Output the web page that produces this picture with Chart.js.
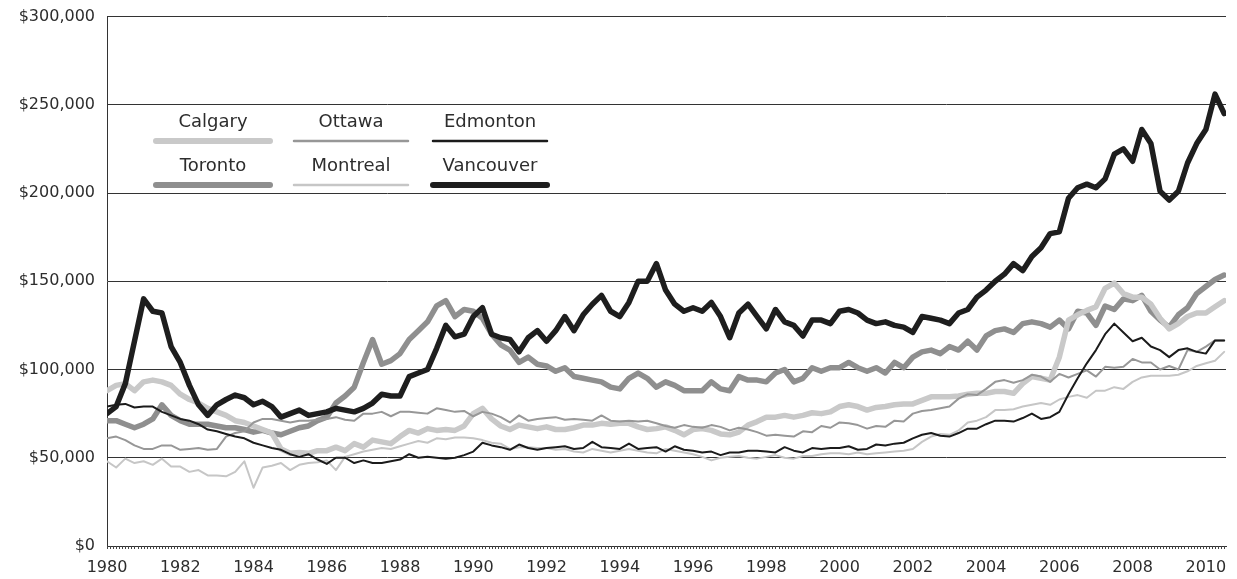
<!DOCTYPE html>
<html>
<head>
<meta charset="utf-8">
<title>Harga rumah</title>
<script src="https://cdn.jsdelivr.net/npm/chart.js@4.4.1/dist/chart.umd.min.js"></script>
<style>
    html, body { margin: 0; padding: 0; background: #fff; }
    #wrap { width: 1237px; height: 579px; }
</style>
</head>
<body>
<div id="wrap"><canvas id="grafikHarga" width="1237" height="579"></canvas></div>
<script>
// Quarterly prices in thousands of dollars, from Q1 1980 to Q3 2010
const startYear = 1980;
const pointsPerYear = 4;

const calgary = [
    88, 91, 92, 88,         // 1980
    93, 94, 93, 91,         // 1981
    86, 83, 81, 78,         // 1982
    76, 74, 71, 70,         // 1983
    68, 66, 64, 55,         // 1984
    52.5, 53, 52.5, 54,     // 1985
    54, 56, 54, 58,         // 1986
    56, 60, 59, 58,         // 1987
    62, 65.5, 64, 66.5,     // 1988
    65.5, 66, 65.5, 68,     // 1989
    75, 78, 72, 68,         // 1990
    66, 68.5, 67.5, 66.5,   // 1991
    67.5, 66, 66, 67,       // 1992
    68.5, 68.5, 69.5, 69,   // 1993
    69.5, 69.5, 67.5, 66,   // 1994
    66.5, 67.5, 65.5, 63,   // 1995
    66, 66.5, 65.5, 63.5,   // 1996
    63, 64.5, 68.5, 70.5,   // 1997
    73, 73, 74, 73,         // 1998
    74, 75.5, 75, 76,       // 1999
    79, 80, 79, 77,         // 2000
    78.5, 79, 80, 80.5,     // 2001
    80.5, 82.5, 84.5, 84.5, // 2002
    84.5, 85, 86, 86.5,     // 2003
    86.5, 87.5, 87.5, 86.5, // 2004
    92, 96, 95, 94,         // 2005
    107, 128, 131, 133.5,   // 2006
    135.5, 146, 149, 143,   // 2007
    141, 141, 137, 129,     // 2008
    123, 126, 130, 132,     // 2009
    132, 135.5, 139         // 2010
];

const toronto = [
    71, 71, 69, 67,         // 1980
    69, 72, 80, 74,         // 1981
    71, 69, 69, 69,         // 1982
    68, 67, 67, 66,         // 1983
    64.5, 65.5, 64, 63,     // 1984
    65, 67, 68, 71,         // 1985
    73, 81, 85, 90,         // 1986
    104, 117, 103, 105,     // 1987
    109, 117, 122, 127,     // 1988
    136, 139, 130, 134,     // 1989
    133, 129, 120, 114,     // 1990
    111, 104, 107, 103,     // 1991
    102, 99, 101, 96,       // 1992
    95, 94, 93, 90,         // 1993
    89, 95, 98, 95,         // 1994
    90, 93, 91, 88,         // 1995
    88, 88, 93, 89,         // 1996
    88, 96, 94, 94,         // 1997
    93, 98, 100, 93,        // 1998
    95, 101, 99, 101,       // 1999
    101, 104, 101, 99,      // 2000
    101, 98, 104, 101,      // 2001
    107, 110, 111, 109,     // 2002
    113, 111, 116, 111,     // 2003
    119, 122, 123, 121,     // 2004
    126, 127, 126, 124,     // 2005
    128, 123, 133, 132,     // 2006
    125, 136, 134, 140,     // 2007
    139, 142, 133, 128,     // 2008
    124, 131, 135, 143,     // 2009
    147, 151, 153.5         // 2010
];

const ottawa = [
    61, 62, 60, 57,         // 1980
    55, 55, 57, 57,         // 1981
    54.5, 55, 55.5, 54.5,   // 1982
    55, 62, 64, 65,         // 1983
    70, 72, 72, 71,         // 1984
    70, 71, 71, 71.5,       // 1985
    72, 73, 71.5, 71,       // 1986
    75, 75, 76, 73.5,       // 1987
    76, 76, 75.5, 75,       // 1988
    78, 77, 76, 76.5,       // 1989
    73.5, 76, 75, 73,       // 1990
    70, 74, 71, 72,         // 1991
    72.5, 73, 71.5, 72,     // 1992
    71.5, 71, 74, 71,       // 1993
    70.5, 71, 70.5, 71,     // 1994
    69.5, 68, 67, 68.5,     // 1995
    67.5, 67, 68.5, 67.5,   // 1996
    65.5, 67, 66, 64.5,     // 1997
    62.5, 63, 62.5, 62,     // 1998
    65, 64.5, 68, 67,       // 1999
    70, 69.5, 68.5, 66.5,   // 2000
    68, 67.5, 71, 70.5,     // 2001
    75, 76.5, 77, 78,       // 2002
    79, 83.5, 86, 85.5,     // 2003
    89, 93, 94, 92.5,       // 2004
    94, 97, 96, 93,         // 2005
    97.5, 95.5, 97.5, 99.5, // 2006
    96, 101.5, 101, 101.5,  // 2007
    106, 104, 104, 100,     // 2008
    102, 100, 111, 110,     // 2009
    113, 116.5, 116.5       // 2010
];

const montreal = [
    48, 44.5, 49.5, 47,     // 1980
    48, 46, 49.5, 45,       // 1981
    45, 42, 43, 40,         // 1982
    40, 39.5, 42, 48,       // 1983
    33, 44.5, 45.5, 47,     // 1984
    43, 46, 47, 47.5,       // 1985
    48.5, 43, 50.5, 52,     // 1986
    53.5, 54.5, 55.5, 55,   // 1987
    56.5, 58, 59.5, 58.5,   // 1988
    61, 60.5, 61.5, 61.5,   // 1989
    61, 60, 58.5, 58,       // 1990
    55, 56, 56, 55.5,       // 1991
    55.5, 54.5, 55, 53.5,   // 1992
    53, 55, 54, 53,         // 1993
    54, 55, 54, 53,         // 1994
    52.5, 55, 54, 53,       // 1995
    52, 50.5, 48.5, 50,     // 1996
    50.5, 51, 50, 49.5,     // 1997
    50.5, 51.5, 50, 49.5,   // 1998
    51, 51, 52, 52.5,       // 1999
    52.5, 52, 53, 52,       // 2000
    52.5, 53, 53.5, 54,     // 2001
    55, 59, 62, 63.5,       // 2002
    63, 65.5, 70, 71,       // 2003
    73, 77, 77, 77.5,       // 2004
    79, 80, 81, 80,         // 2005
    83, 84.5, 85.5, 84,     // 2006
    88, 88, 90, 89,         // 2007
    93, 95.5, 96.5, 96.5,   // 2008
    96.5, 97, 99, 102,      // 2009
    103.5, 105, 110         // 2010
];

const edmonton = [
    79, 80, 80.5, 78.5,     // 1980
    79, 79, 76, 74,         // 1981
    72, 71, 69, 66,         // 1982
    65, 63.5, 62, 61,       // 1983
    58.5, 57, 55.5, 54.5,   // 1984
    52, 50.5, 52, 49,       // 1985
    46.5, 50, 50, 47,       // 1986
    48.5, 47, 47, 48,       // 1987
    49, 52, 50, 50.5,       // 1988
    50, 49.5, 50, 51.5,     // 1989
    53.5, 58.5, 57, 56,     // 1990
    54.5, 57.5, 55.5, 54.5, // 1991
    55.5, 56, 56.5, 55,     // 1992
    55.5, 59, 56, 55.5,     // 1993
    55, 58, 55, 55.5,       // 1994
    56, 53.5, 56.5, 54.5,   // 1995
    54, 53, 53.5, 51.5,     // 1996
    53, 53, 54, 54,         // 1997
    53.5, 53, 56, 54,       // 1998
    53, 55.5, 55, 55.5,     // 1999
    55.5, 56.5, 54.5, 55,   // 2000
    57.5, 57, 58, 58.5,     // 2001
    61, 63, 64, 62.5,       // 2002
    62, 64, 66.5, 66.5,     // 2003
    69, 71, 71, 70.5,       // 2004
    72.5, 75, 72, 73,       // 2005
    76, 86, 95, 103.5,      // 2006
    111, 120, 126, 121,     // 2007
    116, 118, 113, 111,     // 2008
    107, 111, 112, 110,     // 2009
    109, 116.5, 116.5       // 2010
];

const vancouver = [
    75, 79, 92, 116,        // 1980
    140, 133, 132, 113,     // 1981
    104, 91, 80, 74,        // 1982
    80, 83, 85.5, 84,       // 1983
    80, 82, 79, 73,         // 1984
    75, 77, 74, 75,         // 1985
    76, 78, 77, 76,         // 1986
    78, 81, 86, 85,         // 1987
    85, 96, 98, 100,        // 1988
    112, 125, 118.5, 120,   // 1989
    130, 135, 120, 118,     // 1990
    117, 110, 118, 122,     // 1991
    116, 122, 130, 122,     // 1992
    131, 137, 142, 133,     // 1993
    130, 138, 150, 150,     // 1994
    160, 145, 137, 133,     // 1995
    135, 133, 138, 130,     // 1996
    118, 132, 137, 130,     // 1997
    123, 134, 127, 125,     // 1998
    119, 128, 128, 126,     // 1999
    133, 134, 132, 128,     // 2000
    126, 127, 125, 124,     // 2001
    121, 130, 129, 128,     // 2002
    126, 132, 134, 141,     // 2003
    145, 150, 154, 160,     // 2004
    156, 164, 169, 177,     // 2005
    178, 197, 203, 205,     // 2006
    203, 208, 222, 225,     // 2007
    218, 236, 228, 201,     // 2008
    196, 201, 217, 228,     // 2009
    236, 256, 245           // 2010
];

const priceTicks = [0, 50000, 100000, 150000, 200000, 250000, 300000];
const yearStep = 2;

document.addEventListener("DOMContentLoaded", function() {
    const ctx = document.getElementById("grafikHarga").getContext("2d");
    const textColor = "#2d2d2d";

    function toPoints(vals) {
        return vals.map((v, i) => ({ x: startYear + i / pointsPerYear, y: v * 1000 }));
    }

    function seri(label, vals, color, width, order) {
        return {
            label: label,
            data: toPoints(vals),
            borderColor: color,
            borderWidth: width,
            borderJoinStyle: "round",
            borderCapStyle: "round",
            pointRadius: 0,
            tension: 0,
            fill: false,
            order: order
        };
    }

    // Legend: label above a sample stroke, 3 columns x 2 rows
    const legendPlugin = {
        id: "legendaGaris",
        afterDatasetsDraw(chart) {
            const c = chart.ctx;
            const rows = [["Calgary", "Ottawa", "Edmonton"], ["Toronto", "Montreal", "Vancouver"]];
            const colX = [213, 351, 490];
            const rowY = [122, 166];
            const halfLen = 57;
            c.save();
            c.font = "18px 'DejaVu Sans'";
            c.textAlign = "center";
            c.textBaseline = "middle";
            rows.forEach((row, r) => {
                row.forEach((name, k) => {
                    const ds = chart.data.datasets.find(d => d.label === name);
                    c.fillStyle = textColor;
                    c.fillText(name, colX[k], rowY[r]);
                    c.beginPath();
                    c.lineCap = "round";
                    c.strokeStyle = ds.borderColor;
                    c.lineWidth = ds.borderWidth + 0.5;
                    c.moveTo(colX[k] - halfLen, rowY[r] + 19);
                    c.lineTo(colX[k] + halfLen, rowY[r] + 19);
                    c.stroke();
                });
            });
            c.restore();
        }
    };

    // Small monthly ticks under the x axis
    const monthTicks = {
        id: "tandaBulan",
        afterDraw(chart) {
            const xs = chart.scales.x;
            const c = chart.ctx;
            const bottom = chart.chartArea.bottom;
            c.save();
            c.strokeStyle = "#444";
            c.lineWidth = 1;
            c.beginPath();
            for (let m = 0; startYear + m / 12 <= xs.max + 1e-9; m++) {
                const px = Math.round(xs.getPixelForValue(startYear + m / 12)) + 0.5;
                c.moveTo(px, bottom);
                c.lineTo(px, bottom + 3);
            }
            c.stroke();
            c.restore();
        }
    };

    new Chart(ctx, {
        type: "line",
        data: {
            datasets: [
                seri("Calgary", calgary, "#c9c9c9", 5.5, 4),
                seri("Toronto", toronto, "#8f8f8f", 5.5, 5),
                seri("Ottawa", ottawa, "#979797", 2, 1),
                seri("Montreal", montreal, "#c6c6c6", 2, 2),
                seri("Edmonton", edmonton, "#1b1b1b", 2, 0),
                seri("Vancouver", vancouver, "#1e1e1e", 5.5, 3)
            ]
        },
        options: {
            responsive: false,
            animation: false,
            layout: { padding: { top: 16.5, right: 11, bottom: 0, left: 0 } },
            plugins: {
                legend: { display: false },
                tooltip: { enabled: false }
            },
            scales: {
                x: {
                    type: "linear",
                    min: startYear,
                    max: 2010.55,
                    grid: { display: false },
                    border: { display: true, color: "#333", width: 1 },
                    ticks: {
                        stepSize: yearStep,
                        includeBounds: false,
                        autoSkip: false,
                        maxRotation: 0,
                        padding: 4,
                        color: textColor,
                        font: { family: "DejaVu Sans", size: 16 },
                        callback: v => String(v)
                    },
                    afterFit: s => { s.height = 33; }
                },
                y: {
                    min: priceTicks[0],
                    max: priceTicks[priceTicks.length - 1],
                    afterBuildTicks: s => { s.ticks = priceTicks.map(v => ({ value: v })); },
                    grid: { color: "#333", lineWidth: 1, drawTicks: false },
                    border: { display: true, color: "#333", width: 1 },
                    ticks: {
                        padding: 12,
                        color: textColor,
                        font: { family: "DejaVu Sans", size: 16 },
                        callback: v => "$" + v.toLocaleString("en-US")
                    },
                    afterFit: s => { s.width = 107; s.paddingTop = 0; s.paddingBottom = 0; }
                }
            }
        },
        plugins: [legendPlugin, monthTicks]
    });
});
</script>
</body>
</html>
